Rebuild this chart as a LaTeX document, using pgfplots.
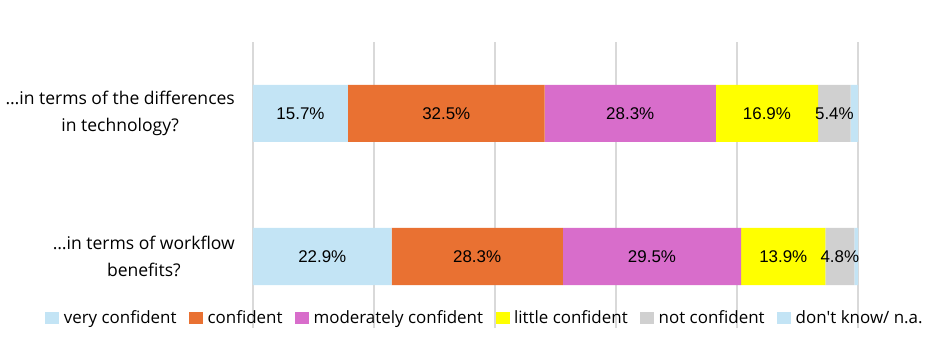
\documentclass[border=0pt]{standalone}
\usepackage{fontspec}
\setmainfont{Open Sans}
\newfontfamily\labfont{Liberation Sans}
\usepackage{pgfplots}
\pgfplotsset{compat=1.18}
\definecolor{vc}{HTML}{C3E4F5}
\definecolor{co}{HTML}{E97132}
\definecolor{mc}{HTML}{D86DCB}
\definecolor{lc}{HTML}{FFFF00}
\definecolor{nc}{HTML}{D0D0D0}
\definecolor{dk}{HTML}{C3E4F5}
\begin{document}
\begin{tikzpicture}
\useasboundingbox (-253bp,-34bp) rectangle (694bp,328bp);
\begin{axis}[
  at={(0,0)}, anchor=south west,
  scale only axis, width=605bp, height=286bp,
  xbar stacked, bar width=57bp,
  xmin=0, xmax=100, ymin=-0.5, ymax=1.5,
  xtick={0,20,...,100}, xticklabels={},
  xmajorgrids, grid style={draw=black!15, line width=1.3bp},
  ytick={0,1},
  yticklabels={{…in terms of workflow\\benefits?},{…in terms of the differences\\in technology?}},
  yticklabel style={align=center, font=\fontsize{17.6}{27}\selectfont, inner sep=0pt, xshift=-18bp},
  axis line style={draw=none}, major tick length=0pt,
  legend columns=6,
  legend style={at={(0.383,0.035)}, anchor=center, draw=none, fill=none,
    font=\fontsize{17}{20}\selectfont,
    nodes={inner sep=1.5bp},
    /tikz/every even column/.append style={column sep=11bp}},
  legend image code/.code={\fill[#1] (0bp,-6bp) rectangle (14bp,6bp); \path (17bp,0bp);},
]
\addplot[fill=vc, draw=none] coordinates {(15.7,1) (22.9,0)};
\addplot[fill=co, draw=none] coordinates {(32.5,1) (28.3,0)};
\addplot[fill=mc, draw=none] coordinates {(28.3,1) (29.5,0)};
\addplot[fill=lc, draw=none] coordinates {(16.9,1) (13.9,0)};
\addplot[fill=nc, draw=none] coordinates {(5.4,1) (4.8,0)};
\addplot[fill=dk, draw=none] coordinates {(1.2,1) (0.6,0)};
\legend{very confident, confident, moderately confident, little confident, not confident, don\textquotesingle t know/ n.a.}
\end{axis}
\begin{axis}[
  at={(0,0)}, anchor=south west,
  scale only axis, width=605bp, height=286bp,
  xmin=0, xmax=100, ymin=-0.5, ymax=1.5, hide axis,
  /pgf/number format/assume math mode=true,
]
\addplot[draw=none, mark=none, point meta=explicit, nodes near coords={\pgfmathprintnumber[fixed,precision=1,fixed zerofill,assume math mode=true]{\pgfplotspointmeta}\%},
  nodes near coords style={anchor=center, font=\labfont\fontsize{17}{20}\selectfont, text=black}]
  coordinates {(7.85,1) [15.7] (31.95,1) [32.5] (62.35,1) [28.3] (84.95,1) [16.9] (96.1,1) [5.4]
               (11.45,0) [22.9] (37.05,0) [28.3] (65.95,0) [29.5] (87.65,0) [13.9] (97.0,0) [4.8]};
\end{axis}
\end{tikzpicture}
\end{document}
